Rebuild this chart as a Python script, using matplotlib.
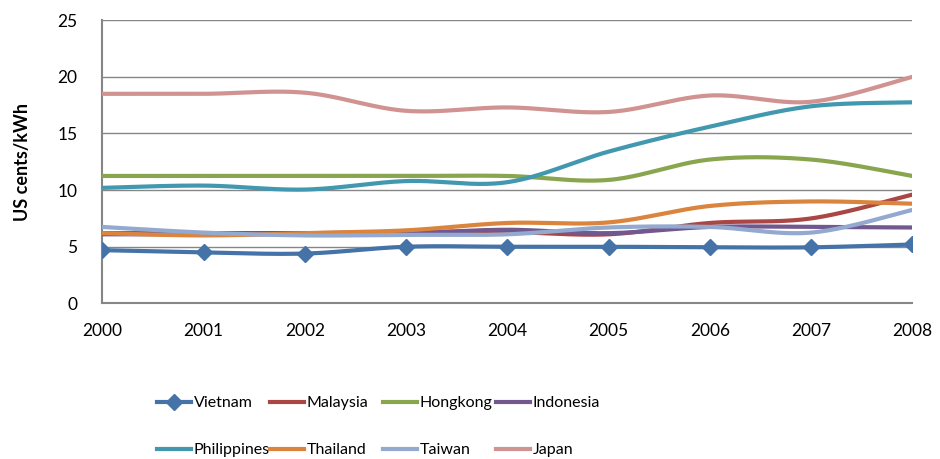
import numpy as np
import matplotlib
matplotlib.use("Agg")
import matplotlib.pyplot as plt
from matplotlib.lines import Line2D

plt.rcParams['font.family'] = ['Lato', 'DejaVu Sans']

years = [2000, 2001, 2002, 2003, 2004, 2005, 2006, 2007, 2008]
vietnam = [4.7, 4.5, 4.4, 5.0, 5.0, 5.0, 4.95, 4.95, 5.2]
malaysia = [6.2, 6.2, 6.2, 6.3, 6.3, 6.1, 7.1, 7.5, 9.6]
hongkong = [11.25, 11.25, 11.25, 11.25, 11.25, 10.9, 12.7, 12.7, 11.25]
indonesia = [6.1, 6.1, 6.1, 6.2, 6.5, 6.2, 6.75, 6.75, 6.7]
philippines = [10.2, 10.4, 10.05, 10.8, 10.7, 13.4, 15.6, 17.4, 17.75]
thailand = [6.2, 6.0, 6.2, 6.45, 7.1, 7.15, 8.6, 9.0, 8.8]
taiwan = [6.75, 6.25, 6.0, 6.05, 6.1, 6.7, 6.75, 6.25, 8.25]
japan = [18.5, 18.5, 18.6, 17.0, 17.3, 16.9, 18.35, 17.8, 20.0]

names = ["Vietnam", "Malaysia", "Hongkong", "Indonesia",
         "Philippines", "Thailand", "Taiwan", "Japan"]
series = [vietnam, malaysia, hongkong, indonesia, philippines, thailand, taiwan, japan]
colors = ["#4572A7", "#AA4643", "#89A54E", "#71588F",
          "#4198AF", "#DB843D", "#93A9CF", "#D19392"]


def smooth(x, y, n=40):
    x = np.asarray(x, float)
    y = np.asarray(y, float)
    pts = np.column_stack([x, y])
    out = []
    for i in range(len(pts) - 1):
        p0 = pts[i - 1] if i > 0 else pts[i]
        p1 = pts[i]
        p2 = pts[i + 1]
        p3 = pts[i + 2] if i + 2 < len(pts) else pts[i + 1]
        c1 = p1 + (p2 - p0) / 6.0
        c2 = p2 - (p3 - p1) / 6.0
        t = np.linspace(0, 1, n)[:, None]
        seg = ((1 - t) ** 3) * p1 + 3 * ((1 - t) ** 2) * t * c1 + 3 * (1 - t) * t ** 2 * c2 + t ** 3 * p2
        if i > 0:
            seg = seg[1:]
        out.append(seg)
    out = np.vstack(out)
    return out[:, 0], out[:, 1]


fig = plt.figure(figsize=(9.4, 4.59), dpi=100)
ax = fig.add_axes([0.109, 0.339, 0.8615, 0.617])

lw = 3.0
handles = []
for name, s, c in zip(names, series, colors):
    sx, sy = smooth(years, s)
    ax.plot(sx, sy, color=c, lw=lw, solid_capstyle='round', zorder=3)
    if name == "Vietnam":
        ax.plot(years, s, linestyle='none', marker='D', markersize=8,
                color=c, zorder=4)
        h = Line2D([], [], color=c, lw=lw, marker='D', markersize=8)
    else:
        h = Line2D([], [], color=c, lw=lw)
    handles.append(h)

ax.set_xlim(2000, 2008)
ax.set_ylim(0, 25)
ax.set_yticks([0, 5, 10, 15, 20, 25])
ax.set_xticks(years)
ax.set_xticklabels([str(y) for y in years])
ax.yaxis.grid(True, color='#868686', lw=1.0)
ax.set_axisbelow(True)
for sp in ['top', 'right']:
    ax.spines[sp].set_visible(False)
for sp in ['left', 'bottom']:
    ax.spines[sp].set_color('#868686')
    ax.spines[sp].set_linewidth(1.5)
ax.tick_params(axis='both', length=0, labelsize=12.5, colors='black')
ax.tick_params(axis='y', pad=18)
ax.tick_params(axis='x', pad=14)
ax.set_ylabel("US cents/kWh", fontsize=13, fontweight='bold')
ax.yaxis.set_label_coords(-0.088, 0.5)

col_x = [157, 270, 383, 496]
for i in range(4):
    fig.legend([handles[i], handles[i + 4]], [names[i], names[i + 4]],
               loc='upper left',
               bbox_to_anchor=(col_x[i] / 940, 1 - 396 / 459),
               frameon=False, fontsize=11.5, handlelength=2.1,
               handletextpad=0.2, labelspacing=2.05, borderpad=0.0,
               borderaxespad=0.0)

fig.savefig("out.png", dpi=100)
